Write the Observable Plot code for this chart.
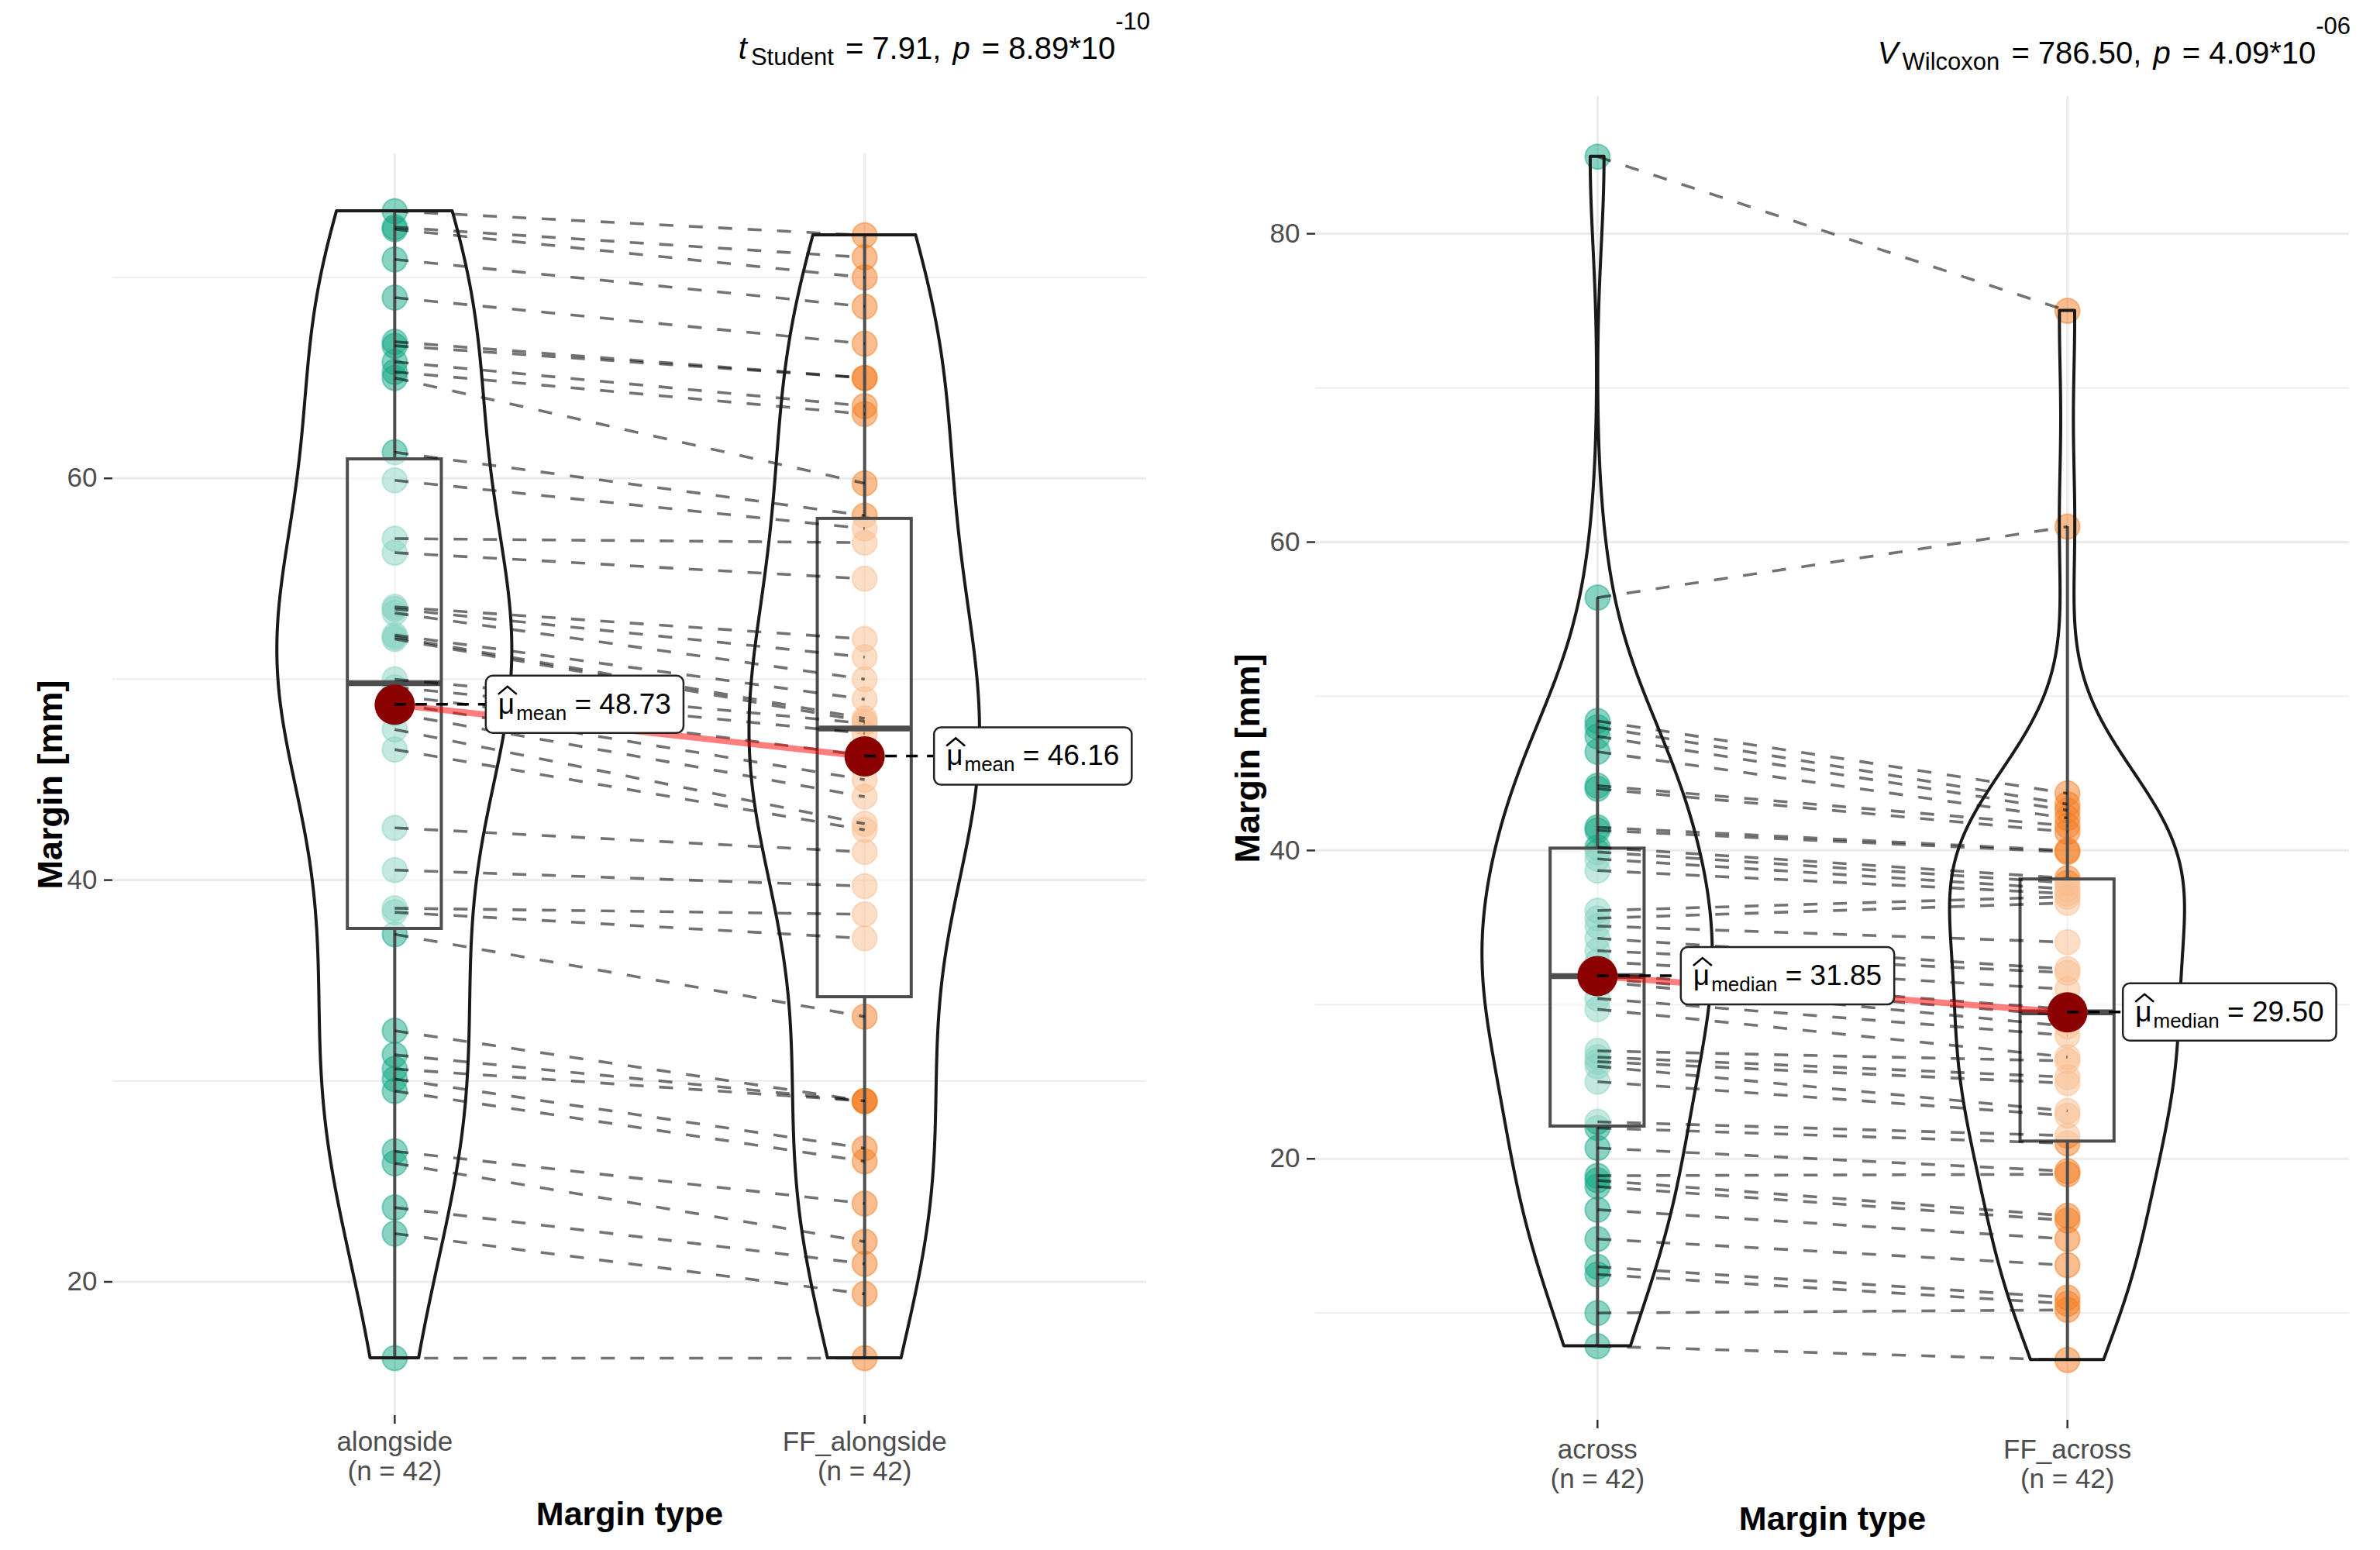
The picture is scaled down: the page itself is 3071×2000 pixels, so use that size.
<!DOCTYPE html>
<html><head><meta charset="utf-8">
<script src="https://cdn.jsdelivr.net/npm/d3@7"></script>
<script src="https://cdn.jsdelivr.net/npm/@observablehq/plot@0.6"></script>
<style>
html,body{margin:0;padding:0;background:#fff;}
#chart{position:relative;width:3071px;height:2000px;background:#fff;font-family:"Liberation Sans",Arial,sans-serif;}
#chart svg{position:absolute;top:0;}
</style></head><body><div id="chart"></div>
<script>
// ---------------- data (paired, one entry per subject) ----------------
const alongside   = [16.2, 22.4, 23.7, 25.9, 26.5, 29.5, 30.1, 30.6, 31.3, 32.5, 37.3, 38.4, 38.6, 40.5, 42.6, 46.5, 47.5, 48.3, 48.8, 49.2, 49.6, 50.0, 52.0, 52.1, 52.2, 53.3, 53.5, 53.6, 56.3, 57.0, 59.9, 61.3, 65.0, 65.3, 65.8, 66.6, 66.8, 69.0, 70.9, 72.4, 72.5, 73.3];
const ffAlongside = [16.2, 19.4, 20.9, 22.0, 23.9, 26.0, 26.65, 29.0, 29.0, 29.0, 33.2, 37.1, 38.3, 39.7, 41.4, 42.5, 42.8, 44.15, 45.0, 46.2, 47.3, 47.8, 47.9, 48.05, 49.0, 50.0, 51.1, 52.0, 55.0, 56.8, 57.5, 58.15, 59.75, 63.2, 63.6, 65.0, 65.0, 66.7, 68.55, 70.0, 71.0, 72.1];
const across      = [7.85, 10.0, 12.5, 13.0, 14.8, 16.7, 18.2, 18.6, 18.9, 20.7, 22.0, 22.4, 25.0, 26.0, 26.3, 26.6, 27.0, 29.7, 30.4, 31.5, 31.7, 32.0, 32.8, 33.5, 34.3, 35.1, 35.6, 36.1, 38.7, 39.45, 39.9, 40.2, 41.3, 41.5, 44.0, 44.2, 46.4, 47.4, 48.0, 48.4, 56.4, 85.0];
const ffAcross    = [6.95, 10.2, 10.6, 11.0, 13.1, 14.8, 16.0, 16.3, 19.0, 19.2, 21.0, 21.5, 22.8, 23.1, 24.9, 25.3, 26.35, 26.6, 28.0, 28.6, 29.3, 29.7, 31.0, 32.07, 32.3, 34.05, 36.6, 37.0, 37.2, 37.5, 37.9, 38.2, 39.9, 40.0, 41.2, 41.6, 42.1, 42.6, 43.0, 43.7, 61.0, 75.0];

const leftCategories  = ["alongside", "FF_alongside"];
const rightCategories = ["across", "FF_across"];
const leftCentrality  = [48.73, 46.16];   // means
const rightCentrality = [31.85, 29.50];   // medians
const leftCentralityName  = "mean";
const rightCentralityName = "median";
const leftYTicks  = [20, 40, 60];
const leftYMinor  = [30, 50, 70];
const rightYTicks = [20, 40, 60, 80];
const rightYMinor = [10, 30, 50, 70];
const leftStat  = ["t", "Student", "7.91", "8.89", "-10"];
const rightStat = ["V", "Wilcoxon", "786.50", "4.09", "-06"];
const yTitle = "Margin [mm]";
const xTitle = "Margin type";

// ---------------- styling ----------------
const FONT = "'Liberation Sans', Arial, Helvetica, sans-serif";
const groupColors = ["#12A783", "#F47C20"];
const GRID = "#EBEBEB";

function nrd0(v) {
  const s = v.slice().sort(d3.ascending);
  const iqr = d3.quantile(s, 0.75) - d3.quantile(s, 0.25);
  const lo = Math.min(d3.deviation(v), iqr / 1.34);
  return 0.9 * lo * Math.pow(v.length, -0.2);
}
function kde(v, n = 512) {
  const bw = nrd0(v);
  const [lo, hi] = d3.extent(v);
  const k = u => Math.exp(-0.5 * u * u) / Math.sqrt(2 * Math.PI);
  return d3.range(n).map(i => {
    const y = lo + (hi - lo) * i / (n - 1);
    return {y, d: d3.mean(v, x => k((y - x) / bw)) / bw};
  });
}

function makePanel(cfg) {
  const groups = [cfg.a, cfg.b];
  const pairs = cfg.a.map((v, i) => ({a: v, b: cfg.b[i]}));
  const [lo, hi] = d3.extent(groups.flat());
  const pad = (hi - lo) * 0.05;
  const stats = groups.map((vals, gi) => {
    const s = vals.slice().sort(d3.ascending);
    const q1 = d3.quantile(s, 0.25), med = d3.quantile(s, 0.5), q3 = d3.quantile(s, 0.75);
    const iqr = q3 - q1;
    return {pos: gi + 1, q1, med, q3,
      wlo: d3.min(s.filter(v => v >= q1 - 1.5 * iqr)),
      whi: d3.max(s.filter(v => v <= q3 + 1.5 * iqr))};
  });
  const dens = groups.map(v => kde(v));
  const maxD = d3.max(dens.flat(), d => d.d);
  const violin = dens.flatMap((arr, gi) => arr.map(d => ({g: gi, y: d.y,
    x1: gi + 1 - 0.25 * d.d / maxD, x2: gi + 1 + 0.25 * d.d / maxD})));
  const cent = cfg.cent.map((v, gi) => ({pos: gi + 1, v}));

  const dots = groups.map((vals, gi) => Plot.dot(vals, {x: () => gi + 1, y: d => d, r: 16,
    fill: groupColors[gi], fillOpacity: 0.5, stroke: groupColors[gi], strokeOpacity: 0.45, strokeWidth: 2}));

  const plot = Plot.plot({
    width: cfg.width, height: 2000,
    marginLeft: cfg.ml, marginRight: cfg.mr, marginTop: cfg.mt, marginBottom: cfg.mb,
    x: {domain: [0.4, 2.6], axis: null},
    y: {domain: [lo - pad, hi + pad], axis: null},
    style: {fontFamily: FONT, background: "white", overflow: "visible"},
    marks: [
      Plot.gridY({ticks: cfg.yMinor, stroke: GRID, strokeOpacity: 1, strokeWidth: 1.8}),
      Plot.gridY({ticks: cfg.yTicks, stroke: GRID, strokeOpacity: 1, strokeWidth: 3}),
      Plot.gridX({ticks: [1, 2], stroke: GRID, strokeOpacity: 1, strokeWidth: 3}),
      Plot.axisY({ticks: cfg.yTicks, tickSize: 11, tickPadding: 9, fontSize: 35, stroke: "#333333", strokeWidth: 2.5, fill: "#4D4D4D", label: null}),
      Plot.axisX({ticks: [1, 2], tickSize: 11, tickPadding: cfg.xTickPad, fontSize: 35, lineHeight: 1.09,
        stroke: "#333333", strokeWidth: 2.5, fill: "#4D4D4D", label: null,
        tickFormat: d => `${cfg.cats[d - 1]}\n(n = ${groups[d - 1].length})`}),
      Plot.text([yTitle], {frameAnchor: "left", textAnchor: "middle", rotate: -90, dx: cfg.yLabelDx, fontSize: 45, fontWeight: "bold", fill: "black"}),
      Plot.text([xTitle], {frameAnchor: "bottom", textAnchor: "middle", lineAnchor: "bottom", dy: 141, fontSize: 43, fontWeight: "bold", fill: "black"}),
      ...dots,
      Plot.rect(stats, {x1: d => d.pos - 0.1, x2: d => d.pos + 0.1, y1: "q1", y2: "q3", fill: "white", fillOpacity: 0.5, stroke: "#4D4D4D", strokeWidth: 4}),
      Plot.ruleX(stats, {x: "pos", y1: "q3", y2: "whi", stroke: "#4D4D4D", strokeWidth: 4}),
      Plot.ruleX(stats, {x: "pos", y1: "wlo", y2: "q1", stroke: "#4D4D4D", strokeWidth: 4}),
      Plot.ruleY(stats, {y: "med", x1: d => d.pos - 0.1, x2: d => d.pos + 0.1, stroke: "#4D4D4D", strokeWidth: 7.5}),
      Plot.link(pairs, {x1: () => 1, y1: "a", x2: () => 2, y2: "b", stroke: "black", strokeOpacity: 0.55, strokeWidth: 3.6, strokeDasharray: "18,20"}),
      Plot.areaX(violin, {y: "y", x1: "x1", x2: "x2", z: "g", fill: "none", stroke: "#1A1A1A", strokeWidth: 4}),
      Plot.line(cent, {x: "pos", y: "v", stroke: "#FF0000", strokeOpacity: 0.5, strokeWidth: 8}),
      Plot.dot(cent, {x: "pos", y: "v", r: 26, fill: "#8B0000"})
    ]
  });
  plot.style.left = cfg.left + "px";
  document.getElementById("chart").appendChild(plot);

  // scale helpers
  const xs = plot.scale("x"), ys = plot.scale("y");
  const X = v => xs.apply(v), Y = v => ys.apply(v);
  const svg = d3.select(plot);

  // centrality labels
  cent.forEach((c, i) => {
    const px = X(c.pos), py = Y(c.v);
    const boxLeft = px + cfg.labelOffsets[i];
    const g = svg.append("g").attr("text-anchor", "start").attr("font-family", FONT);
    g.append("line").attr("x1", px).attr("y1", py).attr("x2", boxLeft).attr("y2", py)
      .attr("stroke", "black").attr("stroke-width", 3.5).attr("stroke-dasharray", "15,12");
    const t = g.append("text").attr("x", boxLeft + 16).attr("y", py + 12).attr("text-anchor", "start")
      .style("white-space", "pre").attr("fill", "black");
    t.append("tspan").attr("font-size", 37).text("μ");
    t.append("tspan").attr("font-size", 26).attr("dy", 8).attr("dx", 2).text(cfg.centName);
    t.append("tspan").attr("font-size", 37).attr("dy", -8).text(" = " + d3.format(".2f")(c.v));
    const bb = t.node().getBBox();
    g.insert("rect", "text").attr("x", boxLeft).attr("y", py - 37).attr("width", bb.width + 32).attr("height", 74)
      .attr("rx", 9).attr("fill", "white").attr("stroke", "#222").attr("stroke-width", 2.5);
    g.append("path").attr("d", `M${boxLeft + 16},${py - 13} L${boxLeft + 28},${py - 23} L${boxLeft + 40},${py - 13}`)
      .attr("fill", "none").attr("stroke", "black").attr("stroke-width", 2.5);
  });

  // subtitle with statistic
  const s = cfg.stat;
  const tt = svg.append("text").attr("x", cfg.titleEnd).attr("y", cfg.titleY).attr("text-anchor", "end")
    .style("white-space", "pre").attr("fill", "black").attr("font-size", 40).attr("font-family", FONT);
  tt.append("tspan").attr("font-style", "italic").text(s[0]);
  tt.append("tspan").attr("font-size", 31).attr("dy", 8).attr("dx", 5).text(s[1]);
  tt.append("tspan").attr("dy", -8).attr("dx", 4).text(" = " + s[2] + ", ");
  tt.append("tspan").attr("font-style", "italic").attr("dx", 4).text("p");
  tt.append("tspan").attr("dx", 4).text(" = " + s[3] + "*10");
  tt.append("tspan").attr("font-size", 31).attr("dy", -38).text(s[4]);
}

makePanel({a: alongside, b: ffAlongside, cats: leftCategories, cent: leftCentrality, centName: leftCentralityName,
  yTicks: leftYTicks, yMinor: leftYMinor, stat: leftStat,
  left: 0, width: 1540, ml: 145, mr: 61, mt: 198, mb: 174, yLabelDx: -80, xTickPad: 7,
  labelOffsets: [118, 90], titleEnd: 1484, titleY: 76});
makePanel({a: across, b: ffAcross, cats: rightCategories, cent: rightCentrality, centName: rightCentralityName,
  yTicks: rightYTicks, yMinor: rightYMinor, stat: rightStat,
  left: 1540, width: 1531, ml: 157, mr: 40, mt: 124, mb: 168, yLabelDx: -87, xTickPad: 11,
  labelOffsets: [108, 72], titleEnd: 1493, titleY: 82});
</script></body></html>
